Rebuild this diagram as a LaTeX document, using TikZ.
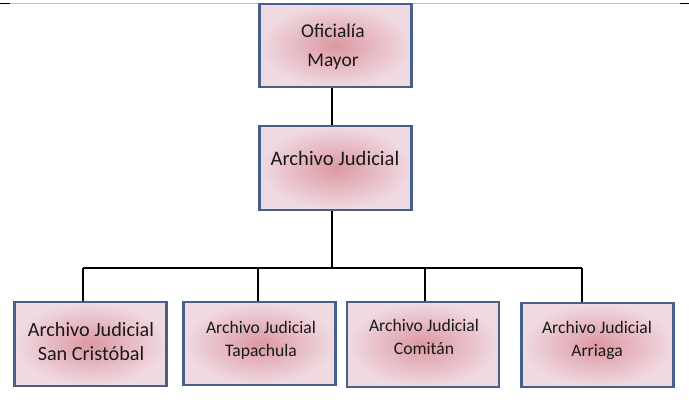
\documentclass[tikz,border=0pt]{standalone}
\usepackage{fontspec}
\setmainfont{Carlito}
\definecolor{boxborder}{RGB}{70,96,138}
\definecolor{boxin}{RGB}{220,152,162}
\definecolor{boxout}{RGB}{240,218,226}
\definecolor{topline}{RGB}{190,190,190}
\begin{document}
\begin{tikzpicture}[x=1pt,y=-1pt,
  box/.style={draw=boxborder,line width=2.2pt,shading=radial,inner color=boxin,outer color=boxout,inner sep=0pt},
  lbl/.style={align=center,text=black!90,inner sep=0pt,font=\fontsize{17.6}{23}\selectfont},
  conn/.style={draw=black,line width=1.7pt}]
\useasboundingbox (0,0) rectangle (689,402);
\fill[white] (0,0) rectangle (689,402);
% top rule
\draw[topline,line width=1pt] (10,3) -- (680,3);
\draw[black,line width=1pt] (0,3) -- (10,3) (680,3) -- (689,3);
% boxes
\node[box,minimum width=152,minimum height=83] (om) at (335.5,45.5) {};
\node[box,minimum width=152,minimum height=84] (aj) at (335.5,168) {};
\node[box,minimum width=152,minimum height=84] (b1) at (90.5,344) {};
\node[box,minimum width=152,minimum height=83] (b2) at (259.5,343.5) {};
\node[box,minimum width=152,minimum height=85] (b3) at (423,344.5) {};
\node[box,minimum width=152,minimum height=84] (b4) at (597.5,345) {};
% labels
\node[lbl,font=\fontsize{19.5}{29}\selectfont] (tom) at (333,47) {Oficialía\\Mayor};
\node[lbl,font=\fontsize{20.6}{24}\selectfont] (taj) at (335,158) {Archivo Judicial};
\node[lbl,font=\fontsize{20.2}{24}\selectfont] (tb1) at (91,342) {Archivo Judicial\\San Cristóbal};
\node[lbl] (tb2) at (261,340) {Archivo Judicial\\Tapachula};
\node[lbl] (tb3) at (424,337) {Archivo Judicial\\Comitán};
\node[lbl] (tb4) at (597,340) {Archivo Judicial\\Arriaga};
% connectors
\coordinate (bus) at (332,268);
\draw[conn] (om.south -| bus) -- (aj.north -| bus);
\draw[conn] (aj.south -| bus) -- (bus);
\draw[conn] (83,268) coordinate (bl) -- (582,268) coordinate (br);
\draw[conn] (bl) -- (bl |- b1.north);
\draw[conn] (258,268) -- (258,268 |- b2.north);
\draw[conn] (425,268) -- (425,268 |- b3.north);
\draw[conn] (br) -- (br |- b4.north);
\end{tikzpicture}
\end{document}
